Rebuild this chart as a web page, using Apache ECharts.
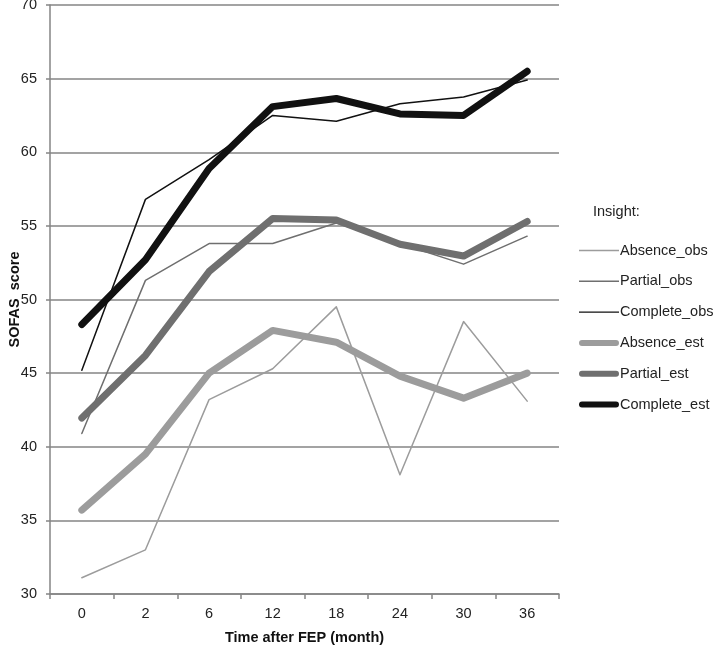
<!DOCTYPE html>
<html>
<head>
<meta charset="utf-8">
<script src="https://cdn.jsdelivr.net/npm/echarts@6/dist/echarts.min.js"></script>
<style>
  html, body { margin: 0; padding: 0; background: #fff; }
  #chart { width: 714px; height: 646px; }
</style>
</head>
<body>
<div id="chart"></div>
<script>
  'use strict';

  // months after FEP
  var months = ['0', '2', '6', '12', '18', '24', '30', '36'];

  var absenceObs = [31.1, 33.0, 43.2, 45.3, 49.5, 38.1, 48.5, 43.1];
  var partialObs = [40.9, 51.3, 53.8, 53.8, 55.2, 53.8, 52.4, 54.3];
  var completeObs = [45.2, 56.8, 59.5, 62.5, 62.1, 63.3, 63.75, 64.9];

  var absenceEst = [35.7, 39.5, 45.0, 47.9, 47.1, 44.8, 43.3, 45.0];
  var partialEst = [41.95, 46.2, 51.9, 55.5, 55.4, 53.75, 52.95, 55.3];
  var completeEst = [48.3, 52.7, 58.9, 63.1, 63.65, 62.6, 62.5, 65.5];

  var gridColor = '#858585';
  var font = 'Liberation Sans, Arial, sans-serif';

  // legend icons: thin rule / thick rounded bar in a 40x8 box
  var thinIcon = 'path://M0,0L0.01,0L0.01,0.01ZM0,3.3L40,3.3L40,4.7L0,4.7ZM40,8L39.99,8L39.99,7.99Z';
  var thickIcon = 'path://M0,0L0.01,0L0.01,0.01ZM3,1L37,1A3,3 0 0 1 37,7L3,7A3,3 0 0 1 3,1ZM40,8L39.99,8L39.99,7.99Z';

  function makeSeries(name, data, color, width) {
    return {
      name: name,
      type: 'line',
      data: data,
      symbol: 'none',
      smooth: false,
      animation: false,
      lineStyle: {
        color: color,
        width: width,
        cap: 'round',
        join: 'round'
      },
      itemStyle: { color: color }
    };
  }

  var chart = echarts.init(document.getElementById('chart'));

  chart.setOption({
    backgroundColor: '#fff',
    animation: false,
    title: {
      text: 'Insight:',
      left: 588,
      top: 199,
      textStyle: { fontFamily: font, fontSize: 14.5, fontWeight: 'normal', color: '#222' }
    },
    legend: {
      orient: 'vertical',
      left: 574,
      top: 238,
      itemWidth: 40,
      itemHeight: 8,
      itemGap: 15.8,
      itemStyle: { borderWidth: 0 },
      lineStyle: { width: 0 },
      textStyle: { fontFamily: font, fontSize: 14.5, color: '#222', padding: [0, 0, 0, -4] },
      data: [
        { name: 'Absence_obs', icon: thinIcon },
        { name: 'Partial_obs', icon: thinIcon },
        { name: 'Complete_obs', icon: thinIcon },
        { name: 'Absence_est', icon: thickIcon },
        { name: 'Partial_est', icon: thickIcon },
        { name: 'Complete_est', icon: thickIcon }
      ]
    },
    grid: { left: 50, right: 155, top: 5, bottom: 52, outerBoundsMode: 'none' },
    xAxis: {
      type: 'category',
      data: months,
      boundaryGap: true,
      name: 'Time after FEP (month)',
      nameLocation: 'middle',
      nameGap: 36,
      nameMoveOverlap: false,
      nameTextStyle: { fontFamily: font, fontSize: 14.5, fontWeight: 'bold', color: '#111' },
      axisLine: { lineStyle: { color: gridColor, width: 1.5 } },
      axisTick: { show: true, length: 5, inside: false, lineStyle: { color: gridColor, width: 1.5 } },
      axisLabel: { fontFamily: font, fontSize: 14.5, color: '#222', margin: 12 },
      splitLine: { show: false }
    },
    yAxis: {
      type: 'value',
      min: 30,
      max: 70,
      interval: 5,
      name: 'SOFAS  score',
      nameLocation: 'middle',
      nameGap: 28,
      nameRotate: 90,
      nameMoveOverlap: false,
      nameTextStyle: { fontFamily: font, fontSize: 14.5, fontWeight: 'bold', color: '#111' },
      axisLine: { show: true, lineStyle: { color: gridColor, width: 1.5 } },
      axisTick: { show: true, length: 4, lineStyle: { color: gridColor, width: 1.5 } },
      axisLabel: { fontFamily: font, fontSize: 14.5, color: '#222', margin: 13 },
      splitLine: { show: true, lineStyle: { color: gridColor, width: 1.5 } }
    },
    series: [
      makeSeries('Absence_obs', absenceObs, '#9c9c9c', 1.5),
      makeSeries('Partial_obs', partialObs, '#6f6f6f', 1.5),
      makeSeries('Complete_obs', completeObs, '#111111', 1.5),
      makeSeries('Absence_est', absenceEst, '#9c9c9c', 7),
      makeSeries('Partial_est', partialEst, '#6f6f6f', 7),
      makeSeries('Complete_est', completeEst, '#111111', 7)
    ]
  });
</script>
</body>
</html>
